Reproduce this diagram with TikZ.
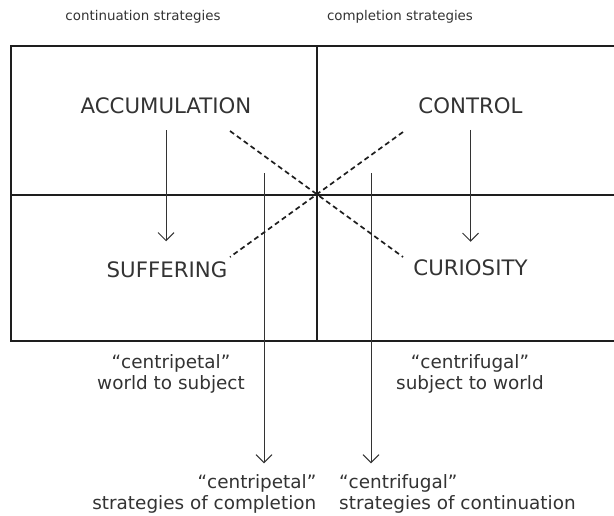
\documentclass[tikz,border=0pt]{standalone}
\usepackage{fontspec}
\setmainfont{DejaVu Sans}
\usetikzlibrary{arrows.meta}
\definecolor{tinta}{HTML}{333333}
\definecolor{linea}{HTML}{1E1E1E}

\begin{document}
\begin{tikzpicture}[
        x=1pt, y=-1pt,
        estado/.style={inner sep=0pt, text=tinta, font=\fontsize{21.3}{25}\selectfont},
        titulo/.style={inner sep=0pt, text=tinta, anchor=base, font=\fontsize{13.4}{16}\selectfont},
        texto/.style={inner sep=0pt, text=tinta, font=\fontsize{18.4}{21}\selectfont},
        flecha/.style={draw=tinta, line width=1pt, -{Straight Barb[length=8pt, width=16pt]}},
        guion/.style={draw=linea, line width=1.7pt, dash pattern=on 5pt off 3.5pt}
    ]
        \useasboundingbox (0,0) rectangle (614,515);

        % Marco
        \draw[linea, line width=1.8pt] (614,46) -- (11,46) -- (11,341) -- (614,341);
        \draw[linea, line width=1.8pt] (317,46) -- (317,341);
        \draw[linea, line width=1.8pt] (11,195) -- (614,195);

        % Titulos
        \node[titulo] (cont) at (143,20.5) {continuation strategies};
        \node[titulo] (comp) at (400,20.5) {completion strategies};

        % Estados
        \node[estado] (acc) at (166,105.8) {ACCUMULATION};
        \node[estado] (ctl) at (470.5,105.5) {CONTROL};
        \node[estado] (suf) at (167,269.5) {SUFFERING};
        \node[estado] (cur) at (470.5,268) {CURIOSITY};

        % Textos
        \node[texto, align=center] (ctpA) at (171,374) {“centripetal”\\world to subject};
        \node[texto, align=center] (ctfA) at (470,374) {“centrifugal”\\subject to world};
        \node[texto, align=right, anchor=east] (ctpB) at (316.5,494) {“centripetal”\\strategies of completion};
        \node[texto, align=left, anchor=west] (ctfB) at (339,494) {“centrifugal”\\strategies of continuation};

        % Flechas cortas
        \draw[flecha, shorten <=16pt, shorten >=20pt] (acc.south) -- (acc.south |- suf.north);
        \draw[flecha, shorten <=16pt, shorten >=18pt] (ctl.south) -- (ctl.south |- cur.north);

        % Flechas largas
        \coordinate (ini1) at (264,173);
        \coordinate (ini2) at (371,173);
        \draw[flecha, shorten >=11pt] (ini1) -- (ini1 |- ctpB.north);
        \draw[flecha, shorten >=11pt] (ini2) -- (ini2 |- ctfB.north);

        % Cruz discontinua
        \coordinate (d1) at (230,131);
        \coordinate (d2) at (403,257);
        \coordinate (d3) at (403,132);
        \coordinate (d4) at (230,257);
        \draw[guion] (d1) -- (d2);
        \draw[guion] (d3) -- (d4);
    \end{tikzpicture}
\end{document}
